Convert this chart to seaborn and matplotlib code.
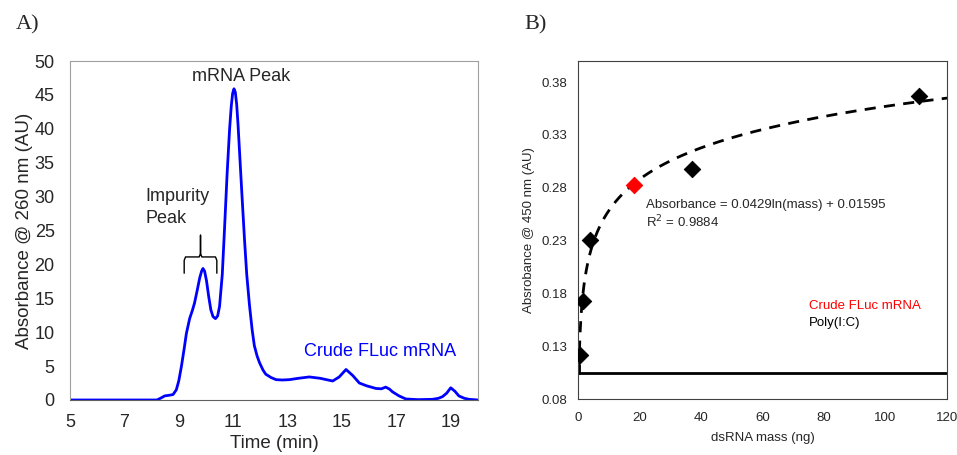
import numpy as np
import pandas as pd
import seaborn as sns
import matplotlib.pyplot as plt

sns.set_style("white")
plt.rcParams['font.family'] = ['Liberation Sans', 'DejaVu Sans']

# Panel A: chromatogram
time_min = [5.0, 6.0, 7.0, 8.0, 8.2, 8.35, 8.48, 8.65, 8.79, 8.91, 9.0, 9.1, 9.2, 9.28, 9.4,
            9.5, 9.58, 9.68, 9.77, 9.84, 9.89, 9.95, 10.02, 10.1, 10.18, 10.26, 10.35, 10.43,
            10.5, 10.6, 10.68, 10.78, 10.87, 10.93, 10.98, 11.03, 11.08, 11.13, 11.18, 11.23,
            11.32, 11.42, 11.5,
            11.6, 11.7, 11.78, 11.88, 11.97, 12.1, 12.2, 12.4, 12.58, 12.8, 13.07, 13.4, 13.8,
            14.2, 14.66, 14.9, 15.15, 15.4, 15.64, 15.9, 16.25, 16.45, 16.61, 16.75, 16.86,
            17.1, 17.35, 17.8, 18.33, 18.55, 18.7, 18.85, 19.0, 19.15, 19.3, 19.5, 19.67, 20.0]
absorb_260 = [0.0, 0.0, 0.0, 0.0, 0.0, 0.3, 0.6, 0.7, 0.8, 1.5, 2.8, 5.0, 7.6, 9.8, 12.0,
              13.2, 14.3, 16.2, 18.0, 19.0, 19.4, 19.0, 17.6, 15.3, 13.3, 12.3, 12.0, 12.4,
              13.8, 18.5, 25.0, 33.5, 40.0, 43.3, 45.2, 45.9, 45.4, 43.6, 40.6, 37.0,
              30.5, 23.5, 18.5,
              14.0, 10.3, 8.0, 6.5, 5.5, 4.4, 3.8, 3.3, 3.0, 2.95, 3.0, 3.2, 3.4,
              3.2, 2.8, 3.4, 4.5, 3.6, 2.5, 2.1, 1.7, 1.65, 1.9, 1.6, 1.2,
              0.6, 0.15, 0.05, 0.1, 0.25, 0.5, 1.0, 1.8, 1.3, 0.6, 0.25, 0.1, 0.0]

# Panel B: ELISA standard curve
mass_ng = [0.5, 1.5, 4.0, 37.0, 111.0]
absorb_450 = [0.122, 0.173, 0.231, 0.298, 0.367]
crude_mass = [18.2]
crude_abs = [0.283]
fit_a, fit_b = 0.0429, 0.1595
blank_abs = 0.105

fig = plt.figure(figsize=(9.57, 4.55), dpi=100)
ax1 = fig.add_axes([0.0731, 0.1209, 0.4263, 0.745])
ax2 = fig.add_axes([0.604, 0.123, 0.3856, 0.743])

# ---- A) chromatogram
chrom = pd.DataFrame({"t": time_min, "A": absorb_260})
sns.lineplot(data=chrom, x="t", y="A", ax=ax1, color="#0000ff", lw=2)
ax1.set_xlim(5, 20)
ax1.set_ylim(0, 50)
ax1.set_xticks(range(5, 20, 2))
ax1.set_yticks(range(0, 51, 5))
ax1.tick_params(labelsize=13, length=0)
ax1.tick_params(axis="y", pad=11)
ax1.tick_params(axis="x", pad=10)
ax1.set_xlabel("Time (min)", fontsize=13.5, labelpad=3)
ax1.set_ylabel("Absorbance @ 260 nm (AU)", fontsize=13.5, labelpad=1)
for s in ax1.spines.values():
    s.set_color("#a0a0a0")
    s.set_linewidth(0.8)
ax1.spines["bottom"].set_color("#606060")
ax1.text(11.3, 47.7, "mRNA Peak", fontsize=13, ha="center", va="center")
ax1.text(7.78, 28.4, "Impurity\nPeak", fontsize=13, ha="left", va="center", linespacing=1.4)
ax1.text(13.62, 7.1, "Crude FLuc mRNA", fontsize=13, color="#0000ff", ha="left", va="center")
# brace over impurity peak
bx = [9.2, 9.2, 9.25, 9.75, 9.8, 9.8, 9.8, 9.85, 10.35, 10.4, 10.4]
by = [18.7, 20.6, 21.1, 21.1, 21.6, 24.3, 21.6, 21.1, 21.1, 20.6, 18.7]
ax1.plot(bx, by, color="black", lw=1)

# ---- B) standard curve
xs = np.geomspace(0.29, 120, 400)
ax2.plot(xs, fit_a * np.log(xs) + fit_b, color="black", ls=(0, (4, 3)), lw=2, zorder=2)
ax2.axhline(blank_abs, color="black", lw=2, zorder=2)
ax2.plot([0.29, 0.29], [blank_abs, 0.112], color="black", lw=2)
std = pd.DataFrame({"mass": mass_ng, "abs": absorb_450})
sns.scatterplot(data=std, x="mass", y="abs", ax=ax2, marker="D", s=70,
                color="black", edgecolor="black", zorder=3)
crude = pd.DataFrame({"mass": crude_mass, "abs": crude_abs})
sns.scatterplot(data=crude, x="mass", y="abs", ax=ax2, marker="D", s=70,
                color="#ff0000", edgecolor="#ff0000", zorder=3)
ax2.set_xlim(0, 120)
ax2.set_ylim(0.08, 0.40)
ax2.set_xticks(range(0, 121, 20))
ax2.set_yticks([0.08, 0.13, 0.18, 0.23, 0.28, 0.33, 0.38])
ax2.set_yticklabels(["0.08", "0.13", "0.18", "0.23", "0.28", "0.33", "0.38"])
ax2.tick_params(labelsize=9.5, length=0)
ax2.tick_params(axis="y", pad=8)
ax2.tick_params(axis="x", pad=9)
ax2.set_xlabel("dsRNA mass (ng)", fontsize=9.5, labelpad=6)
ax2.set_ylabel("Absrobance @ 450 nm (AU)", fontsize=9.5, labelpad=4)
for s in ax2.spines.values():
    s.set_color("#404040")
    s.set_linewidth(0.8)
ax2.text(22.1, 0.264, "Absorbance = 0.0429ln(mass) + 0.01595", fontsize=9.5, va="center")
ax2.text(22.1, 0.248, "R$^2$ = 0.9884", fontsize=9.5, va="center")
ax2.text(75.2, 0.168, "Crude FLuc mRNA", fontsize=9.5, color="#ff0000", va="center")
ax2.text(75.2, 0.152, "Poly(I:C)", fontsize=9.5, color="black", va="center")

fig.text(0.016, 0.945, "A)", fontsize=16, family="Liberation Serif", va="center")
fig.text(0.548, 0.945, "B)", fontsize=16, family="Liberation Serif", va="center")

fig.savefig("out.png", dpi=100)
